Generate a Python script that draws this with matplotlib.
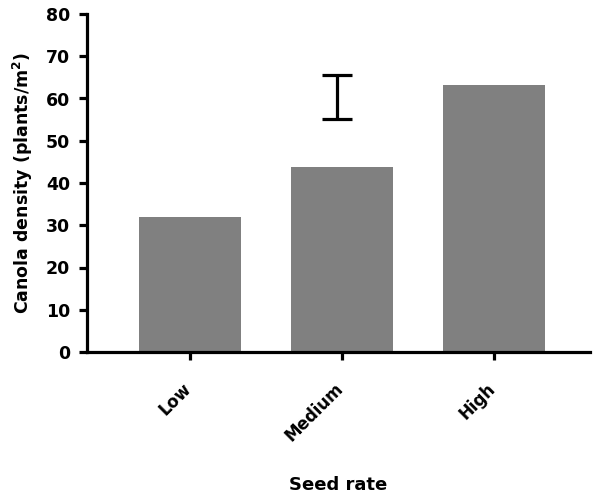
import matplotlib
matplotlib.use("Agg")
import matplotlib.pyplot as plt
import matplotlib.transforms as mtransforms

categories = ["Low", "Medium", "High"]
density = [32.0, 43.8, 63.2]
err_x = [0.967]
err_y = [60.35]
err_half = [5.25]
yticks = [0, 10, 20, 30, 40, 50, 60, 70, 80]

plt.rcParams['font.family'] = ['DejaVu Sans']
plt.rcParams['font.weight'] = 'bold'

fig = plt.figure(figsize=(5.93, 4.99), dpi=100)
ax = fig.add_axes([87/593, 147/499, (590-87)/593, (352-14)/499])

x = list(range(len(categories)))
ax.bar(x, density, width=0.67, color="#808080", zorder=2)
ax.errorbar(err_x, err_y, yerr=err_half, fmt='none', ecolor='black',
            elinewidth=2.3, capsize=11, capthick=2.3, zorder=3)

ax.set_xlim(-0.678, 2.632)
ax.set_ylim(0, 80)
ax.set_yticks(yticks)
ax.set_xticks(x)

for s in ['top', 'right']:
    ax.spines[s].set_visible(False)
for s in ['left', 'bottom']:
    ax.spines[s].set_linewidth(2.3)
ax.tick_params(axis='both', width=2.3, length=6, color='black')
ax.tick_params(axis='x', pad=14)
ax.tick_params(axis='y', pad=6)

ax.set_xticklabels(categories, rotation=45, ha='right', rotation_mode='anchor',
                   fontsize=12, fontweight='bold')
ax.set_yticklabels([str(v) for v in yticks], fontsize=12.5, fontweight='bold')

offset = mtransforms.ScaledTranslation(-8/100, 0, fig.dpi_scale_trans)
for tick in ax.xaxis.get_major_ticks():
    tick.label1.set_transform(tick.label1.get_transform() + offset)

ax.set_ylabel("Canola density (plants/m$^{\\mathbf{2}}$)", fontsize=12.5,
              fontweight='bold', labelpad=8)
ax.set_xlabel("Seed rate", fontsize=13, fontweight='bold', labelpad=22)

fig.savefig("out.png", dpi=100)
